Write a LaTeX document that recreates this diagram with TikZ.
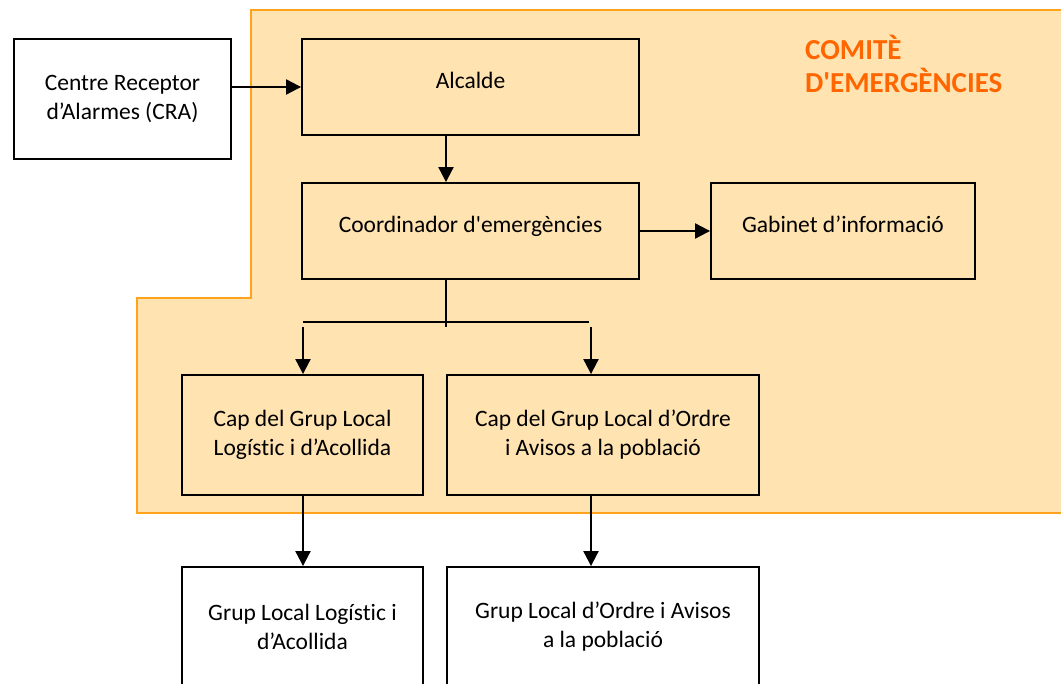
\documentclass[tikz,border=0pt]{standalone}
\usepackage{fontspec}
\setmainfont{Carlito}[Ligatures={TeXOff,CommonOff}]
\usetikzlibrary{arrows.meta}
\definecolor{zonefill}{HTML}{FFE3B0}
\definecolor{zoneline}{HTML}{FFA21C}
\definecolor{titleorange}{HTML}{FF6600}
\tikzset{
  box/.style={draw=black, line width=1.9pt, inner sep=0pt, align=center,
    font=\fontsize{23.5}{29}\selectfont},
  onel/.style={text height=16pt, text depth=12pt},
  arr/.style={draw=black, line width=2.1pt, -{Triangle[length=15pt,width=15pt]}},
  lin/.style={draw=black, line width=2.1pt}
}
\begin{document}
\begin{tikzpicture}[x=1pt,y=-1pt]
\useasboundingbox (0,0) rectangle (1061,684);
\clip (0,0) rectangle (1061,684);
% committee zone
\draw[fill=zonefill, draw=zoneline, line width=1.9pt]
  (250.7,10) -- (1075,10) -- (1075,513) -- (137,513) -- (137,298) -- (250.7,298) -- cycle;
\node[anchor=north west, inner sep=0pt, align=left, text=titleorange,
  font=\fontsize{29}{33}\selectfont\bfseries] (title) at (805,35) {COMITÈ\\D'EMERGÈNCIES};
% boxes
\node[box, fill=white, minimum width=217pt, minimum height=120pt] (cra) at (122.5,99)
  {Centre Receptor\\d’Alarmes (CRA)};
\node[box, onel, minimum width=337pt, minimum height=96pt] (alc) at (470.5,87) {Alcalde};
\node[box, onel, minimum width=337pt, minimum height=96pt] (coord) at (470.5,231) {Coordinador d'emergències};
\node[box, onel, minimum width=264pt, minimum height=96pt] (gab) at (843,231) {Gabinet d’informació};
\node[box, minimum width=241pt, minimum height=120pt] (capL) at (302.5,435)
  {Cap del Grup Local\\Logístic i d’Acollida};
\node[box, minimum width=312pt, minimum height=120pt] (capR) at (603,435)
  {Cap del Grup Local d’Ordre\\i Avisos a la població};
\node[box, fill=white, minimum width=241pt, minimum height=120pt] (botL) at (302.5,627)
  {Grup Local Logístic i\\d’Acollida};
\node[box, fill=white, minimum width=312pt, minimum height=120pt] (botR) at (603,627)
  {Grup Local d’Ordre i Avisos\\a la població};
% connector helper points
\coordinate (ac) at (446,0);
\coordinate (split) at (446,327);
\coordinate (hl) at (303,322);
\coordinate (hr) at (589,322);
\coordinate (al) at (303,327);
\coordinate (ar) at (591,327);
% connectors
\draw[arr] (cra.east |- alc.west) -- (alc.west);
\draw[arr] (alc.south -| ac) -- (coord.north -| ac);
\draw[arr] (coord.east) -- (gab.west);
\draw[lin] (coord.south -| split) -- (split);
\draw[lin] (hl) -- (hr);
\draw[arr] (al) -- (al |- capL.north);
\draw[arr] (ar) -- (ar |- capR.north);
\draw[arr] (capL.south -| al) -- (botL.north -| al);
\draw[arr] (capR.south -| ar) -- (botR.north -| ar);
\end{tikzpicture}
\end{document}
